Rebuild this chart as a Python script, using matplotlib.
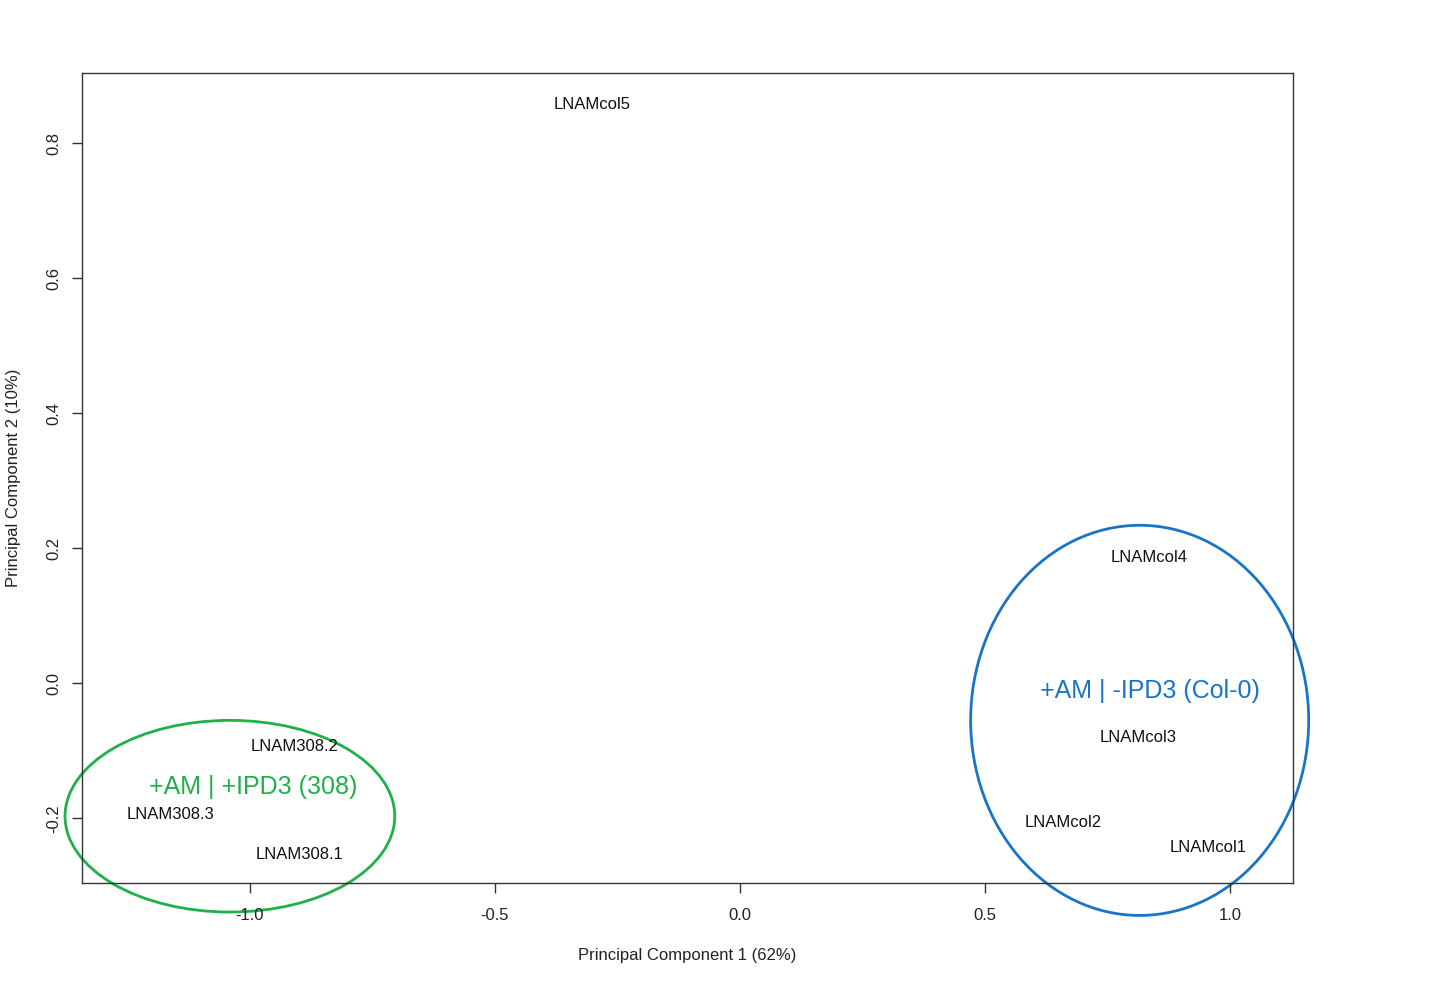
import matplotlib
matplotlib.use("Agg")
import matplotlib.pyplot as plt
from matplotlib.patches import Ellipse

plt.rcParams['font.family'] = ['Liberation Sans', 'DejaVu Sans']
plt.rcParams['axes.unicode_minus'] = False

# sample scores on PC1 / PC2
samples = ["LNAMcol5", "LNAMcol4", "LNAMcol3", "LNAMcol2", "LNAMcol1",
           "LNAM308.2", "LNAM308.3", "LNAM308.1"]
pc1 = [-0.302, 0.835, 0.812, 0.659, 0.955, -0.908, -1.163, -0.898]
pc2 = [0.858, 0.187, -0.081, -0.207, -0.244, -0.093, -0.194, -0.254]

# group annotations: label, text pos, ellipse centre, width, height
groups = ["+AM | +IPD3 (308)", "+AM | -IPD3 (Col-0)"]
group_colors = ["#1fb04b", "#1a74c6"]
group_text_x = [-0.994, 0.837]
group_text_y = [-0.153, -0.012]
ell_x = [-1.041, 0.816]
ell_y = [-0.197, -0.055]
ell_w = [0.673, 0.690]
ell_h = [0.284, 0.578]

xticks = [-1.0, -0.5, 0.0, 0.5, 1.0]
yticks = [-0.2, 0.0, 0.2, 0.4, 0.6, 0.8]

fig = plt.figure(figsize=(14.3, 9.83), dpi=100)
ax = fig.add_axes([0.0573, 0.1017, 0.8469, 0.824])

for name, x, y in zip(samples, pc1, pc2):
    ax.text(x, y, name, ha='center', va='center', fontsize=12, color='#111111')

for i in range(len(groups)):
    ax.text(group_text_x[i], group_text_y[i], groups[i], ha='center', va='center',
            fontsize=18, color=group_colors[i])
    e = Ellipse((ell_x[i], ell_y[i]), ell_w[i], ell_h[i], fill=False,
                edgecolor=group_colors[i], linewidth=2, clip_on=False)
    ax.add_patch(e)

ax.set_xlim(-1.343, 1.129)
ax.set_ylim(-0.296, 0.904)
ax.set_xticks(xticks)
ax.set_xticklabels(["%.1f" % v for v in xticks])
ax.set_yticks(yticks)
ax.set_yticklabels(["%.1f" % v for v in yticks], rotation=90, va='center')

ax.tick_params(axis='both', direction='out', length=7, width=1, labelsize=12,
               color='#333333', labelcolor='#222222')
ax.tick_params(axis='x', pad=11)
ax.tick_params(axis='y', pad=8)
for s in ax.spines.values():
    s.set_color('#333333')
    s.set_linewidth(1)

ax.set_xlabel("Principal Component 1 (62%)", fontsize=12, labelpad=18, color='#222222')
ax.set_ylabel("Principal Component 2 (10%)", fontsize=12, labelpad=18, color='#222222')

fig.savefig("out.png", dpi=100)
